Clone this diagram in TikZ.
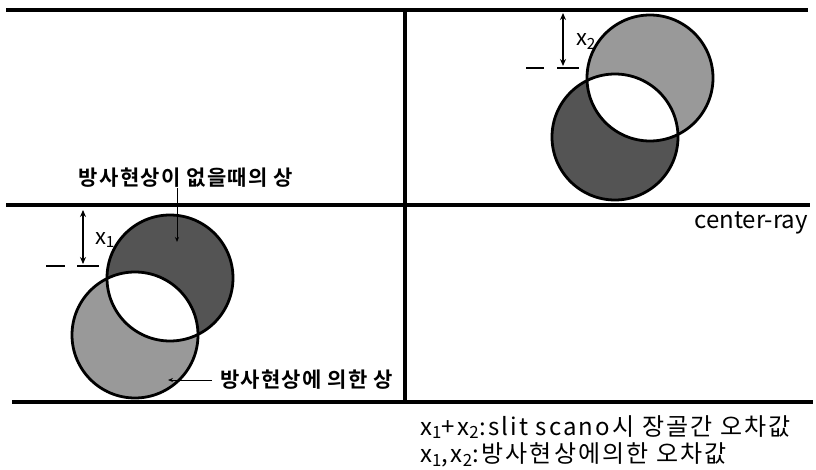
\documentclass[tikz,border=0pt]{standalone}
\usepackage{fontspec}
\setmainfont{Noto Sans CJK KR}[BoldFont={Noto Sans CJK KR Bold}]
\newfontfamily\spacedfont{Noto Sans CJK KR}[LetterSpace=6, BoldFont={Noto Sans CJK KR Bold}]
\newfontfamily\widefont{Noto Sans CJK KR}[LetterSpace=9]
\usetikzlibrary{arrows.meta}
\definecolor{darkimg}{gray}{0.33}
\definecolor{lightimg}{gray}{0.6}
\begin{document}
\begin{tikzpicture}[x=1pt, y=-1pt, >={Stealth[length=7pt,width=6pt]},
    frame/.style={line width=4.5pt},
    rim/.style={line width=2.8pt},
    dimarrow/.style={<->, line width=1.8pt},
    tick/.style={line width=2.2pt},
    leader/.style={->, line width=1pt, >={Stealth[length=5pt,width=4pt]}},
    lbl/.style={font=\spacedfont\fontsize{21}{24}\selectfont\bfseries, inner sep=0pt},
    dimlbl/.style={font=\fontsize{22}{24}\selectfont, inner sep=0pt},
    txt/.style={font=\widefont\fontsize{24}{28}\selectfont, inner sep=0pt, anchor=west}]
    \useasboundingbox (0,0) rectangle (816,470);

    % Cadre
    \draw[frame] (6,10) -- (808,10);
    \draw[frame] (6,205) -- (810,205);
    \draw[frame] (12,402) -- (813,402);
    \draw[frame] (405,10) -- (405,402);

    % Panneau gauche : image sans diffusion (foncee) et image diffusee (claire)
    \fill[lightimg] (135,335) circle (63);
    \fill[darkimg] (170,278) circle (63);
    \begin{scope}
        \clip (135,335) circle (63);
        \fill[white] (170,278) circle (63);
    \end{scope}
    \draw[rim] (135,335) circle (63);
    \draw[rim] (170,278) circle (63);

    \draw[dimarrow] (83,210) -- (83,264);
    \draw[tick] (46,266) -- (65,266);
    \draw[tick] (77,266) -- (99,266);
    \node[dimlbl] (xone) at (105,240) {x\textsubscript{1}};

    \node[lbl] (lblnone) at (186,178) {방사현상이 없을때의 상};
    \coordinate (tipnone) at (177,242);
    \draw[leader] (lblnone.south -| tipnone) -- (tipnone);

    \node[lbl, anchor=west] (lblscat) at (220,380) {방사현상에 의한 상};
    \coordinate (tipscat) at (168,380);
    \draw[leader] ([xshift=-8pt]lblscat.west) -- (tipscat);

    % Panneau droit
    \fill[darkimg] (615,137) circle (63);
    \fill[lightimg] (650,78) circle (63);
    \begin{scope}
        \clip (615,137) circle (63);
        \fill[white] (650,78) circle (63);
    \end{scope}
    \draw[rim] (615,137) circle (63);
    \draw[rim] (650,78) circle (63);

    \draw[dimarrow] (563,13) -- (563,66);
    \draw[tick] (526,68) -- (544,68);
    \draw[tick] (557,68) -- (579,68);
    \node[dimlbl] (xtwo) at (586,42) {x\textsubscript{2}};

    \node[font=\fontsize{24}{28}\selectfont, inner sep=0pt, anchor=east] (ray) at (808,223) {center-ray};

    % Legende
    \node[txt] (legsum) at (420,427) {x\textsubscript{1}+x\textsubscript{2}:slit scano시 장골간 오차값};
    \node[txt] (legeach) at (420,455) {x\textsubscript{1},x\textsubscript{2}:방사현상에의한 오차값};
\end{tikzpicture}
\end{document}
